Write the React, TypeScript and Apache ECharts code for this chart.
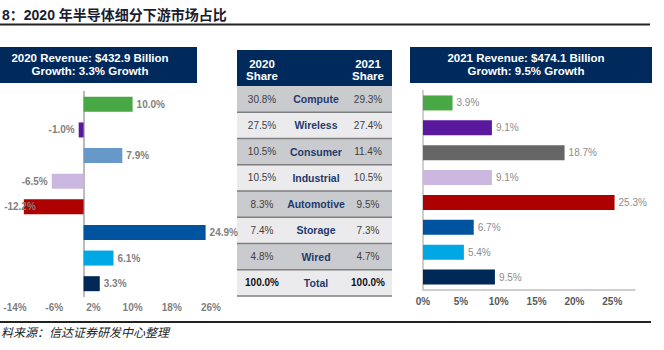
import { useEffect, useRef } from "react";
import * as echarts from "echarts";

const categories = ["Compute", "Wireless", "Consumer", "Industrial", "Automotive", "Storage", "Wired", "Total"];
const growth2020 = [10.0, -1.0, 7.9, -6.5, -12.2, 24.9, 6.1, 3.3];
const growth2021 = [3.9, 9.1, 18.7, 9.1, 25.3, 6.7, 5.4, 9.5];
const share2020 = [30.8, 27.5, 10.5, 10.5, 8.3, 7.4, 4.8, 100.0];
const share2021 = [29.3, 27.4, 11.4, 10.5, 9.5, 7.3, 4.7, 100.0];
const colors2020 = ["#48A843", "#5A189E", "#6699C8", "#CBB7E0", "#AE0000", "#00539E", "#00A7E5", "#002857"];
const colors2021 = ["#48A843", "#5A189E", "#666666", "#CBB7E0", "#AE0000", "#00539E", "#00A7E5", "#002857"];
const header2020 = ["2020 Revenue: $432.9 Billion", "Growth: 3.3% Growth"];
const header2021 = ["2021 Revenue: $474.1 Billion", "Growth: 9.5% Growth"];
const tableHeader2020 = ["2020", "Share"];
const tableHeader2021 = ["2021", "Share"];
const titleText = "8：2020 年半导体细分下游市场占比";
const sourceText = "料来源：信达证券研发中心整理";

const FONT = '"Liberation Sans", Arial, "Noto Sans CJK SC", sans-serif';
const CJK = '"Liberation Sans", "Noto Sans CJK SC", sans-serif';
const NAVY = "#002A5C";

function txt(x: number, y: number, text: string, o: any = {}) {
  return {
    type: "text",
    x,
    y,
    silent: true,
    z: 10,
    style: {
      text,
      fill: o.fill || "#404040",
      fontSize: o.fontSize || 10,
      fontWeight: o.fontWeight || "normal",
      fontStyle: o.fontStyle || "normal",
      fontFamily: o.fontFamily || FONT,
      align: o.align || "center",
      verticalAlign: "middle",
      textAlign: o.align || "center",
      textVerticalAlign: "middle",
    },
  };
}

export default function App() {
  const ref = useRef<HTMLDivElement>(null);
  useEffect(() => {
    if (!ref.current) return;
    const chart = echarts.init(ref.current, null, { renderer: "svg" });

    const graphics: any[] = [];
    // title and rules
    graphics.push(txt(2, 15, titleText, { fontSize: 14, fontWeight: "bold", fill: "#1C1C30", align: "left", fontFamily: CJK }));
    graphics.push({ type: "line", silent: true, shape: { x1: 0, y1: 24.5, x2: 650, y2: 24.5 }, style: { stroke: "#222", lineWidth: 2 } });
    graphics.push({ type: "line", silent: true, shape: { x1: 0, y1: 322, x2: 651, y2: 322 }, style: { stroke: "#222", lineWidth: 2 } });
    graphics.push(txt(1, 333, sourceText, { fontSize: 12, fontStyle: "italic", fill: "#222", align: "left", fontFamily: CJK }));

    // panel headers
    graphics.push({ type: "rect", silent: true, shape: { x: 0, y: 47, width: 197, height: 36 }, style: { fill: NAVY } });
    header2020.forEach((t, i) =>
      graphics.push(txt(90, 57.5 + i * 13.5, t, { fontSize: 11.5, fontWeight: "bold", fill: "#fff" }))
    );
    graphics.push({ type: "rect", silent: true, shape: { x: 410, y: 47, width: 242, height: 36 }, style: { fill: NAVY } });
    header2021.forEach((t, i) =>
      graphics.push(txt(526, 57.5 + i * 13.5, t, { fontSize: 11.5, fontWeight: "bold", fill: "#fff" }))
    );

    // table
    const tx = 237, tw = 155, ty = 50, th = 36, rh = 26.25;
    const c1 = 262, c2 = 316, c3 = 368;
    graphics.push({ type: "rect", silent: true, shape: { x: tx, y: ty, width: tw, height: th }, style: { fill: NAVY } });
    tableHeader2020.forEach((t, i) => graphics.push(txt(c1, 64 + i * 12, t, { fontSize: 11.5, fontWeight: "bold", fill: "#fff" })));
    tableHeader2021.forEach((t, i) => graphics.push(txt(c3, 64 + i * 12, t, { fontSize: 11.5, fontWeight: "bold", fill: "#fff" })));
    categories.forEach((c, i) => {
      const y0 = ty + th + i * rh;
      const isTotal = i === categories.length - 1;
      graphics.push({
        type: "rect",
        silent: true,
        shape: { x: tx, y: y0, width: tw, height: rh },
        style: { fill: i % 2 === 0 ? "#CACBCF" : "#EBEBED" },
      });
      graphics.push({
        type: "line",
        silent: true,
        z: 5,
        shape: { x1: tx, y1: y0 + rh, x2: tx + tw, y2: y0 + rh },
        style: { stroke: "#7F7F7F", lineWidth: 1.5 },
      });
      const cy = y0 + rh / 2;
      graphics.push(txt(c1, cy, share2020[i].toFixed(1) + "%", { fontWeight: isTotal ? "bold" : "normal", fill: isTotal ? "#111" : "#404040" }));
      graphics.push(txt(c2, cy, c, { fontWeight: "bold", fill: "#1F3A6E", fontSize: 10.5 }));
      graphics.push(txt(c3, cy, share2021[i].toFixed(1) + "%", { fontWeight: isTotal ? "bold" : "normal", fill: isTotal ? "#111" : "#404040" }));
    });

    const leftData = growth2020.map((v, i) => ({
      value: v,
      itemStyle: { color: colors2020[i] },
      label: v < 0 ? { position: "left", offset: v < -10 ? [16, 0] : [0, 0] } : { position: "right" },
    }));
    const rightData = growth2021.map((v, i) => ({ value: v, itemStyle: { color: colors2021[i] } }));

    chart.setOption({
      animation: false,
      grid: [
        { left: 15, right: 453, top: 91.5, bottom: 53.5, containLabel: false },
        { left: 423, right: 29, top: 90.5, bottom: 60.5, containLabel: false },
      ],
      xAxis: [
        {
          type: "value",
          gridIndex: 0,
          min: -14,
          max: 26,
          interval: 8,
          axisLine: { show: false },
          axisTick: { show: false },
          splitLine: { show: false },
          axisLabel: { formatter: (v: number) => v + "%", color: "#7F7F7F", fontSize: 10, fontWeight: "bold", fontFamily: FONT, margin: 6 },
        },
        {
          type: "value",
          gridIndex: 1,
          min: 0,
          max: 28,
          interval: 5,
          axisLine: { show: true, lineStyle: { color: "#BFBFBF", width: 1.5 } },
          axisTick: { show: false },
          splitLine: { show: false },
          axisLabel: {
            formatter: (v: number) => (v % 5 === 0 ? v + "%" : ""),
            color: "#595959",
            fontSize: 10,
            fontWeight: "bold",
            fontFamily: FONT,
            margin: 7,
          },
        },
      ],
      yAxis: [
        {
          type: "category",
          gridIndex: 0,
          data: categories,
          inverse: true,
          axisLine: { show: true, onZero: true, lineStyle: { color: "#A6A6A6", width: 1.5 } },
          axisTick: { show: false },
          axisLabel: { show: false },
        },
        {
          type: "category",
          gridIndex: 1,
          data: categories,
          inverse: true,
          axisLine: { show: true, lineStyle: { color: "#BFBFBF", width: 1.5 } },
          axisTick: { show: false },
          axisLabel: { show: false },
        },
      ],
      series: [
        {
          type: "bar",
          xAxisIndex: 0,
          yAxisIndex: 0,
          data: leftData,
          barWidth: 15,
          label: {
            show: true,
            distance: 4,
            color: "#7F7F7F",
            fontSize: 10,
            fontWeight: "bold",
            fontFamily: FONT,
            formatter: (p: any) => p.value.toFixed(1) + "%",
          },
        },
        {
          type: "bar",
          xAxisIndex: 1,
          yAxisIndex: 1,
          data: rightData,
          barWidth: 15,
          label: {
            show: true,
            position: "right",
            distance: 4,
            color: "#8C8C8C",
            fontSize: 10,
            fontFamily: FONT,
            formatter: (p: any) => p.value.toFixed(1) + "%",
          },
        },
      ],
      graphic: graphics,
    });
    return () => chart.dispose();
  }, []);
  return <div ref={ref} style={{ position: "absolute", left: 0, top: 0, width: 664, height: 350, background: "#fff" }} />;
}
